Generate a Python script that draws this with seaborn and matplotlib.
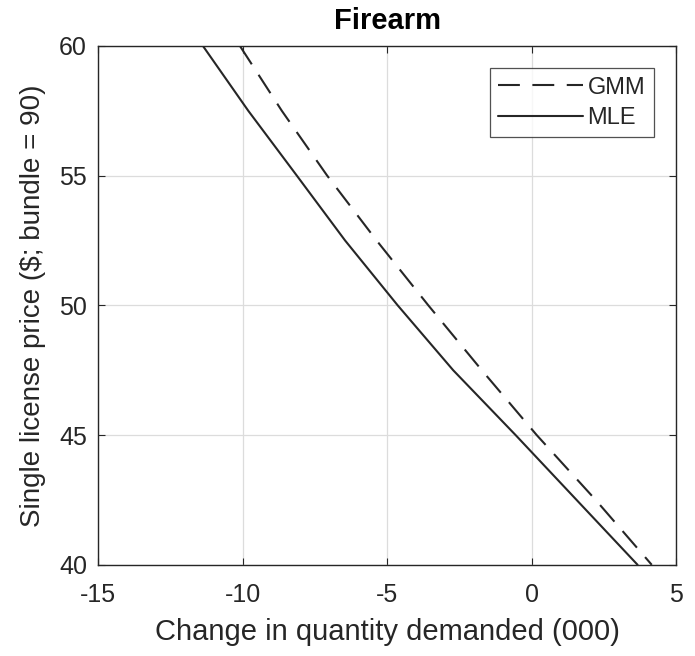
import matplotlib
matplotlib.use("Agg")
import matplotlib.pyplot as plt
import seaborn as sns
import pandas as pd

# Single license price ($)
price = [60, 57.5, 55, 52.5, 50, 47.5, 45, 42.5, 40]
# Change in quantity demanded (000)
gmm_change = [-10.09, -8.64, -7.07, -5.36, -3.57, -1.72, 0.18, 2.22, 4.16]
mle_change = [-11.37, -9.80, -8.12, -6.45, -4.63, -2.71, -0.55, 1.56, 3.67]
series_names = ["GMM", "MLE"]

xticks = [-15, -10, -5, 0, 5]
yticks = [40, 45, 50, 55, 60]

sns.set_theme(style="white")
plt.rcParams["font.family"] = ["Liberation Sans", "DejaVu Sans"]

df = pd.concat([
    pd.DataFrame({"change": gmm_change, "price": price, "model": series_names[0]}),
    pd.DataFrame({"change": mle_change, "price": price, "model": series_names[1]}),
])

fig = plt.figure(figsize=(6.95, 6.56), dpi=100)
ax = fig.add_axes([0.141, 0.139, 0.8317, 0.791])

sns.lineplot(data=df, x="change", y="price", style="model", sort=False,
             dashes={"GMM": (10.5, 6), "MLE": ""}, color="#262626", linewidth=1.5,
             estimator=None, ax=ax)

ax.set_xlim(-15, 5)
ax.set_ylim(40, 60)
ax.set_xticks(xticks)
ax.set_yticks(yticks)
ax.set_xticklabels([str(t) for t in xticks])
ax.set_yticklabels([str(t) for t in yticks])
ax.grid(True, color="#dcdcdc", linewidth=0.9)
ax.set_axisbelow(True)
for s in ax.spines.values():
    s.set_visible(True)
    s.set_color("#262626")
    s.set_linewidth(1.0)
ax.tick_params(direction="in", length=5, width=0.8, color="#262626",
               labelsize=18, labelcolor="#262626", top=True, right=True,
               bottom=True, left=True)
ax.tick_params(axis="x", pad=13)
ax.tick_params(axis="y", pad=8)

ax.set_xlabel("Change in quantity demanded (000)", fontsize=21, color="#262626", labelpad=8)
ax.set_ylabel("Single license price ($; bundle = 90)", fontsize=20, color="#262626", labelpad=9)
ax.set_title("Firearm", fontsize=21, fontweight="bold", color="#000000", pad=12)

leg = ax.legend(loc="upper right", fontsize=17, frameon=True, fancybox=False,
                edgecolor="#262626", handlelength=3.6, handletextpad=0.2,
                borderaxespad=0.95, labelspacing=0.35, borderpad=0.35)
leg.get_frame().set_linewidth(0.9)
for t in leg.get_texts():
    t.set_color("#262626")

fig.savefig("out.png", dpi=100, facecolor="white")
